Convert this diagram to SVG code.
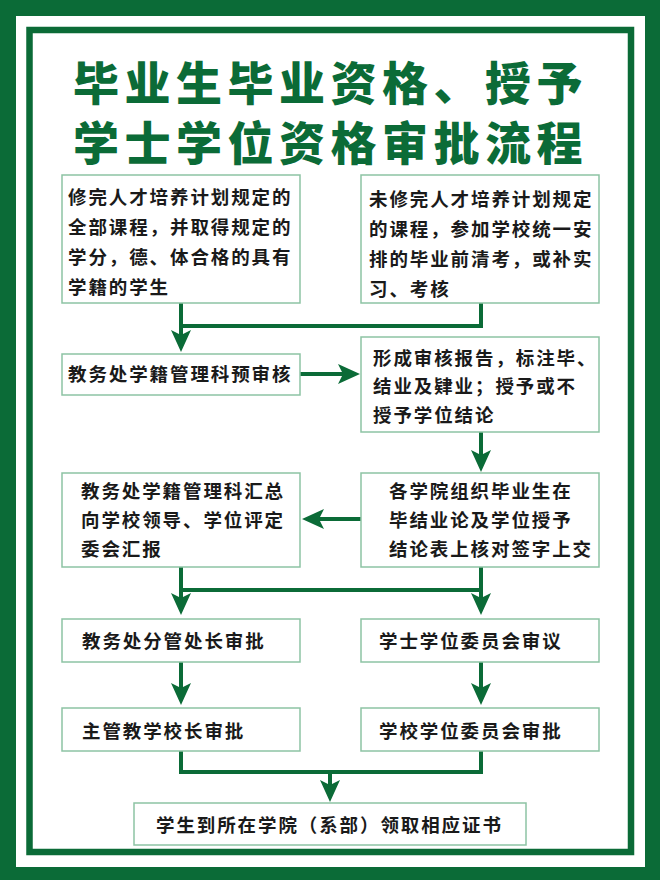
<svg xmlns="http://www.w3.org/2000/svg" width="660" height="880" viewBox="0 0 660 880">
<style>
.frame{fill:#0b6b37}
.inner{fill:none;stroke:#0b6b37;stroke-width:6.5}
.title{font-family:"Noto Sans CJK SC","Noto Sans CJK TC",sans-serif;font-weight:900;font-size:46px;fill:#0b6b37;letter-spacing:5.5px}
.box{fill:#ffffff;stroke:#8dc3a4;stroke-width:1.5}
.t{font-family:"Noto Sans CJK SC","Noto Sans CJK TC",sans-serif;font-weight:700;font-size:18.5px;fill:#1a1a1a;letter-spacing:1.9px}
.c{fill:none;stroke:#0b6b37;stroke-width:4}
</style>
<defs>
<marker id="ah" viewBox="0 0 22 20" markerWidth="22" markerHeight="20" markerUnits="userSpaceOnUse" refX="5" refY="10" orient="auto">
<path d="M0,0 L22,10 L0,20 L5,10 Z" fill="#0b6b37"/>
</marker>
</defs>
<rect class="frame" x="0" y="0" width="660" height="880"/>
<rect x="16" y="16" width="629" height="851" fill="#ffffff"/>
<rect class="inner" x="29.5" y="30" width="601.5" height="822"/>
<g id="title">
<text class="title" x="73" y="100">毕业生毕业资格、授予</text>
<text class="title" x="73" y="160">学士学位资格审批流程</text>
</g>
<g id="connectors">
<path class="c" d="M481,303 V326 H181"/>
<path class="c" d="M181,303 V335" marker-end="url(#ah)"/>
<path class="c" d="M299,374 H343" marker-end="url(#ah)"/>
<path class="c" d="M481,432 V455" marker-end="url(#ah)"/>
<path class="c" d="M361,519 H319" marker-end="url(#ah)"/>
<path class="c" d="M181,590 H481"/>
<path class="c" d="M181,567 V598" marker-end="url(#ah)"/>
<path class="c" d="M481,567 V598" marker-end="url(#ah)"/>
<path class="c" d="M181,662 V688" marker-end="url(#ah)"/>
<path class="c" d="M481,662 V688" marker-end="url(#ah)"/>
<path class="c" d="M181,751 V772 H481 V751"/>
<path class="c" d="M330,772 V785" marker-end="url(#ah)"/>
</g>
<g id="n1">
<rect class="box" x="62" y="175" width="238" height="128"/>
<text class="t" x="68" y="204">修完人才培养计划规定的</text>
<text class="t" x="68" y="234">全部课程，并取得规定的</text>
<text class="t" x="68" y="264">学分，德、体合格的具有</text>
<text class="t" x="68" y="294">学籍的学生</text>
</g>
<g id="n2">
<rect class="box" x="361" y="175" width="238" height="128"/>
<text class="t" x="369" y="206">未修完人才培养计划规定</text>
<text class="t" x="369" y="236">的课程，参加学校统一安</text>
<text class="t" x="369" y="266">排的毕业前清考，或补实</text>
<text class="t" x="369" y="296">习、考核</text>
</g>
<g id="n3">
<rect class="box" x="62" y="354" width="238" height="41"/>
<text class="t" x="68" y="381">教务处学籍管理科预审核</text>
</g>
<g id="n4">
<rect class="box" x="361" y="337" width="238" height="95"/>
<text class="t" x="373" y="365">形成审核报告，标注毕、</text>
<text class="t" x="373" y="393">结业及肄业；授予或不</text>
<text class="t" x="373" y="422">授予学位结论</text>
</g>
<g id="n5">
<rect class="box" x="361" y="473" width="238" height="94"/>
<text class="t" x="389" y="498">各学院组织毕业生在</text>
<text class="t" x="389" y="527">毕结业论及学位授予</text>
<text class="t" x="389" y="556">结论表上核对签字上交</text>
</g>
<g id="n6">
<rect class="box" x="62" y="473" width="238" height="94"/>
<text class="t" x="81" y="498">教务处学籍管理科汇总</text>
<text class="t" x="81" y="527">向学校领导、学位评定</text>
<text class="t" x="81" y="556">委会汇报</text>
</g>
<g id="n7">
<rect class="box" x="62" y="619" width="238" height="43"/>
<text class="t" x="82" y="648">教务处分管处长审批</text>
</g>
<g id="n8">
<rect class="box" x="361" y="619" width="238" height="43"/>
<text class="t" x="379" y="648">学士学位委员会审议</text>
</g>
<g id="n9">
<rect class="box" x="62" y="708" width="238" height="43"/>
<text class="t" x="82" y="738">主管教学校长审批</text>
</g>
<g id="n10">
<rect class="box" x="361" y="708" width="238" height="43"/>
<text class="t" x="379" y="738">学校学位委员会审批</text>
</g>
<g id="n11">
<rect class="box" x="134" y="803" width="392" height="42"/>
<text class="t" x="156" y="832">学生到所在学院（系部）领取相应证书</text>
</g>
</svg>
